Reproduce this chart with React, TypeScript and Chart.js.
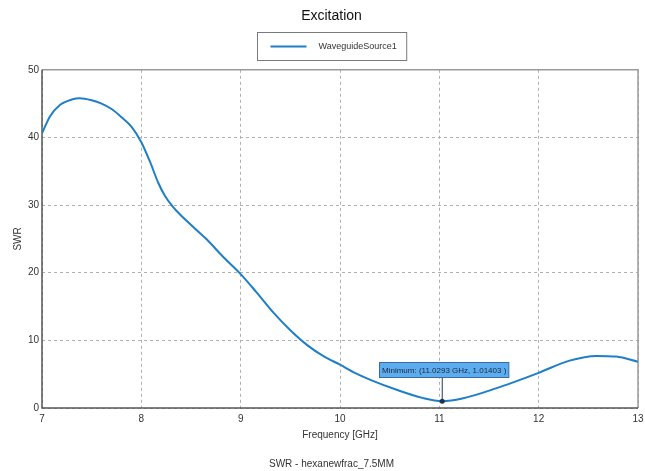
import React, { useEffect, useRef } from 'react';
import { Chart, registerables } from 'chart.js';

Chart.register(...registerables);

const chartTitle = 'Excitation';
const captionText = 'SWR - hexanewfrac_7.5MM';
const seriesName = 'WaveguideSource1';
const xAxisTitle = 'Frequency [GHz]';
const yAxisTitle = 'SWR';

const frequencyGHz = [
  7.0, 7.08, 7.18, 7.3, 7.38, 7.5, 7.6, 7.7, 7.8, 7.9, 8.0, 8.09, 8.17, 8.24, 8.31, 8.39,
  8.52, 8.66, 8.82, 9.0, 9.16, 9.33, 9.5, 9.67, 9.83, 10.0, 10.15, 10.3, 10.57, 10.83,
  11.0293, 11.23, 11.57, 12.0, 12.31, 12.58, 12.78, 13.0,
];
const swrValues = [
  40.6, 43.1, 44.8, 45.6, 45.8, 45.5, 45.0, 44.2, 43.0, 41.6, 39.3, 36.3, 33.3, 31.3, 29.9, 28.6,
  26.8, 24.9, 22.4, 19.8, 17.1, 14.1, 11.5, 9.3, 7.7, 6.4, 5.2, 4.2, 2.7, 1.5,
  1.01403, 1.4, 2.9, 5.2, 7.0, 7.7, 7.6, 6.85,
];

const xTickValues = [7, 8, 9, 10, 11, 12, 13];
const yTickValues = [0, 10, 20, 30, 40, 50];

const minimumX = 11.0293;
const minimumY = 1.01403;

const FONT = '"Liberation Sans", Arial, sans-serif';
const LINE_COLOR = '#1f7fc6';
const PAD_LEFT = 25;
const PAD_RIGHT = 7;

const framePlugin = {
  id: 'frame',
  beforeDatasetsDraw(chart: any) {
    const { ctx, chartArea: a } = chart;
    ctx.save();
    ctx.lineWidth = 1.5;
    ctx.strokeStyle = '#9a9a9a';
    ctx.beginPath();
    ctx.moveTo(a.left, a.top);
    ctx.lineTo(a.right, a.top);
    ctx.lineTo(a.right, a.bottom);
    ctx.stroke();
    ctx.strokeStyle = '#555555';
    ctx.beginPath();
    ctx.moveTo(a.left, a.top);
    ctx.lineTo(a.left, a.bottom);
    ctx.lineTo(a.right, a.bottom);
    ctx.stroke();
    ctx.restore();
  },
};

const minimumPlugin = {
  id: 'minimumMarker',
  afterDatasetsDraw(chart: any) {
    const { ctx, scales } = chart;
    const px = scales.x.getPixelForValue(minimumX);
    const py = scales.y.getPixelForValue(minimumY);
    const text = `Minimum: (${minimumX} GHz, ${minimumY} )`;
    ctx.save();
    ctx.font = `8px ${FONT}`;
    const tw = ctx.measureText(text).width;
    const bw = tw + 5;
    const bh = 15;
    const bx = Math.round(px - bw / 2 + 1) + 0.5;
    const by = Math.round(py - 24 - bh) + 0.5;
    ctx.strokeStyle = '#1c3d5e';
    ctx.lineWidth = 1;
    ctx.beginPath();
    ctx.moveTo(px, by + bh);
    ctx.lineTo(px, py);
    ctx.stroke();
    ctx.fillStyle = '#5cadef';
    ctx.fillRect(bx, by, bw, bh);
    ctx.strokeStyle = '#3a6d9c';
    ctx.strokeRect(bx, by, bw, bh);
    ctx.fillStyle = '#1a2740';
    ctx.textBaseline = 'middle';
    ctx.textAlign = 'left';
    ctx.fillText(text, bx + 2.5, by + bh / 2 + 0.5);
    ctx.fillStyle = '#1c3553';
    ctx.beginPath();
    ctx.arc(px, py, 2.5, 0, Math.PI * 2);
    ctx.fill();
    ctx.restore();
  },
};

const legendBoxPlugin = {
  id: 'legendBox',
  afterDraw(chart: any) {
    const { ctx } = chart;
    const tb = chart.titleBlock;
    const cx = tb ? (tb.left + tb.right) / 2 : (PAD_LEFT + chart.width - PAD_RIGHT) / 2;
    ctx.save();
    ctx.font = `9px ${FONT}`;
    const tw = ctx.measureText(seriesName).width;
    const w = 13 + 36 + 12 + tw + 10;
    const h = 28;
    const left = Math.round(cx - w / 2) + 0.5;
    const top = 32.5;
    ctx.strokeStyle = '#7a7a7a';
    ctx.lineWidth = 1;
    ctx.strokeRect(left, top, w, h);
    ctx.strokeStyle = LINE_COLOR;
    ctx.lineWidth = 2;
    ctx.beginPath();
    ctx.moveTo(left + 13, top + 14);
    ctx.lineTo(left + 49, top + 14);
    ctx.stroke();
    ctx.fillStyle = '#333333';
    ctx.textBaseline = 'middle';
    ctx.textAlign = 'left';
    ctx.fillText(seriesName, left + 61, top + 14);
    ctx.restore();
  },
};

export default function App() {
  const canvasRef = useRef<HTMLCanvasElement | null>(null);

  useEffect(() => {
    if (!canvasRef.current) return;
    const points = frequencyGHz.map((f, i) => ({ x: f, y: swrValues[i] }));
    const chart = new Chart(canvasRef.current, {
      type: 'line',
      data: {
        datasets: [
          {
            label: seriesName,
            data: points,
            borderColor: LINE_COLOR,
            backgroundColor: LINE_COLOR,
            borderWidth: 2,
            pointRadius: 0,
            fill: false,
            cubicInterpolationMode: 'monotone',
          },
        ],
      },
      options: {
        animation: false,
        responsive: false,
        devicePixelRatio: 1,
        layout: { padding: { left: PAD_LEFT, right: PAD_RIGHT, top: 0, bottom: 0 } },
        plugins: {
          legend: { display: false },
          tooltip: { enabled: false },
          title: {
            display: true,
            text: chartTitle,
            color: '#111111',
            font: { family: FONT, size: 14, weight: 'normal' },
            padding: { top: 8, bottom: 45 },
          },
          subtitle: {
            display: true,
            position: 'bottom',
            text: captionText,
            color: '#333333',
            font: { family: FONT, size: 10, weight: 'normal' },
            padding: { top: 7, bottom: 1 },
          },
        },
        scales: {
          x: {
            type: 'linear',
            min: 7,
            max: 13,
            afterBuildTicks: (scale: any) => {
              scale.ticks = xTickValues.map((v) => ({ value: v }));
            },
            afterFit: (scale: any) => {
              scale.height = 43;
              scale.paddingLeft = 0;
              scale.paddingRight = 0;
            },
            ticks: {
              padding: 5,
              color: '#333333',
              font: { family: FONT, size: 10 },
              maxRotation: 0,
            },
            grid: { color: '#b0b0b0', lineWidth: 1, drawTicks: false },
            border: { display: false, dash: [3, 3] },
            title: {
              display: true,
              text: xAxisTitle,
              color: '#333333',
              font: { family: FONT, size: 10 },
              padding: { top: 4, bottom: 10 },
            },
          },
          y: {
            type: 'linear',
            min: 0,
            max: 50,
            afterBuildTicks: (scale: any) => {
              scale.ticks = yTickValues.map((v) => ({ value: v }));
            },
            afterFit: (scale: any) => {
              scale.width = 17;
            },
            ticks: {
              padding: 3,
              color: '#333333',
              font: { family: FONT, size: 10 },
            },
            grid: { color: '#b0b0b0', lineWidth: 1, drawTicks: false },
            border: { display: false, dash: [3, 3] },
            title: {
              display: true,
              text: yAxisTitle,
              color: '#333333',
              font: { family: FONT, size: 10 },
              padding: { top: -12.5, bottom: 0 },
            },
          },
        },
      },
      plugins: [framePlugin, minimumPlugin, legendBoxPlugin],
    } as any);
    return () => chart.destroy();
  }, []);

  return (
    <div style={{ position: 'absolute', left: 0, top: 0, width: 645, height: 471, background: '#ffffff' }}>
      <canvas ref={canvasRef} width={645} height={471} style={{ display: 'block' }} />
    </div>
  );
}
